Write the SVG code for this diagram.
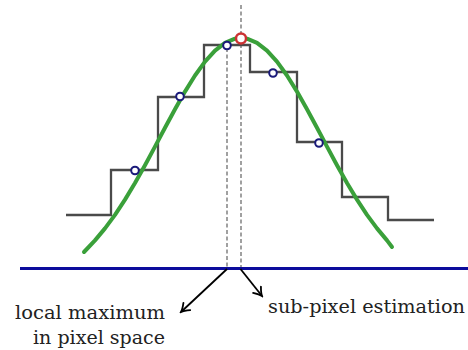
<svg xmlns="http://www.w3.org/2000/svg" width="468" height="350" viewBox="0 0 468 350">
  <style>
    .step { fill: none; stroke: #4a4a4a; stroke-width: 2.3; stroke-linejoin: miter; }
    .curve { fill: none; stroke: #3aa03a; stroke-width: 4; stroke-linecap: round; stroke-linejoin: round; }
    .guide { fill: none; stroke: #6e6e6e; stroke-width: 1.3; stroke-dasharray: 4 2.5; }
    .sample { fill: #ffffff; stroke: #1a1a7a; stroke-width: 2; }
    .peak { fill: #ffffff; stroke: #cc3333; stroke-width: 2.5; }
    .axis { stroke: #0c0c9c; stroke-width: 3; }
    .arrow { fill: none; stroke: #000000; stroke-width: 1.8; }
    .label { font-family: "DejaVu Serif", serif; font-size: 19px; fill: #222222; }
  </style>
  <defs>
    <marker id="tip" viewBox="-10 -6 12 12" refX="0" refY="0" markerWidth="12" markerHeight="12" markerUnits="userSpaceOnUse" orient="auto">
      <path d="M -8 -5 Q -3 -1 0 0 Q -3 1 -8 5" fill="none" stroke="#000000" stroke-width="1.8" stroke-linecap="round"/>
    </marker>
  </defs>

  <g id="guides">
    <line class="guide" x1="227" y1="48" x2="227" y2="268"/>
    <line class="guide" x1="241" y1="5" x2="241" y2="268"/>
  </g>

  <g id="step-signal">
    <polyline class="step" points="66,215 111,215 111,170 158,170 158,97 204,97 204,45 250,45 250,72 297,72 297,142 342,142 342,197 388,197 388,220 434,220"/>
  </g>

  <g id="gaussian">
    <polyline class="curve" points="84,252 95,240.4 105,228.4 115,214.9 125,199.6 135,183 145,165.2 155,146.6 165,127.7 175,109.2 185,91.6 195,75.5 205,61.7 215,50.6 225,42.9 235,38.7 241,38 247,38.7 257,42.9 267,50.6 277,61.7 287,75.5 297,91.6 307,109.2 317,127.7 327,146.6 337,165.2 347,183 357,199.6 367,214.9 377,228.4 387,240.4 392,247"/>
  </g>

  <g id="samples">
    <circle class="sample" cx="135" cy="170.5" r="3.8"/>
    <circle class="sample" cx="180" cy="96.5" r="3.8"/>
    <circle class="sample" cx="227" cy="45.5" r="3.8"/>
    <circle class="sample" cx="273" cy="73" r="3.8"/>
    <circle class="sample" cx="319" cy="143" r="3.8"/>
  </g>

  <g id="peak">
    <circle class="peak" cx="241" cy="38.5" r="5"/>
  </g>

  <g id="axis">
    <line class="axis" x1="20" y1="268.5" x2="468" y2="268.5"/>
  </g>

  <g id="connectors">
    <line class="arrow" x1="227" y1="269" x2="181" y2="312" marker-end="url(#tip)"/>
    <line class="arrow" x1="240.5" y1="269" x2="262" y2="296" marker-end="url(#tip)"/>
  </g>

  <g id="label-local">
    <text class="label" x="165" y="319" text-anchor="end" textLength="150" lengthAdjust="spacingAndGlyphs">local maximum</text>
    <text class="label" x="165" y="344" text-anchor="end" textLength="132" lengthAdjust="spacingAndGlyphs">in pixel space</text>
  </g>

  <g id="label-subpixel">
    <text class="label" x="268" y="313" textLength="197" lengthAdjust="spacingAndGlyphs">sub-pixel estimation</text>
  </g>
</svg>
